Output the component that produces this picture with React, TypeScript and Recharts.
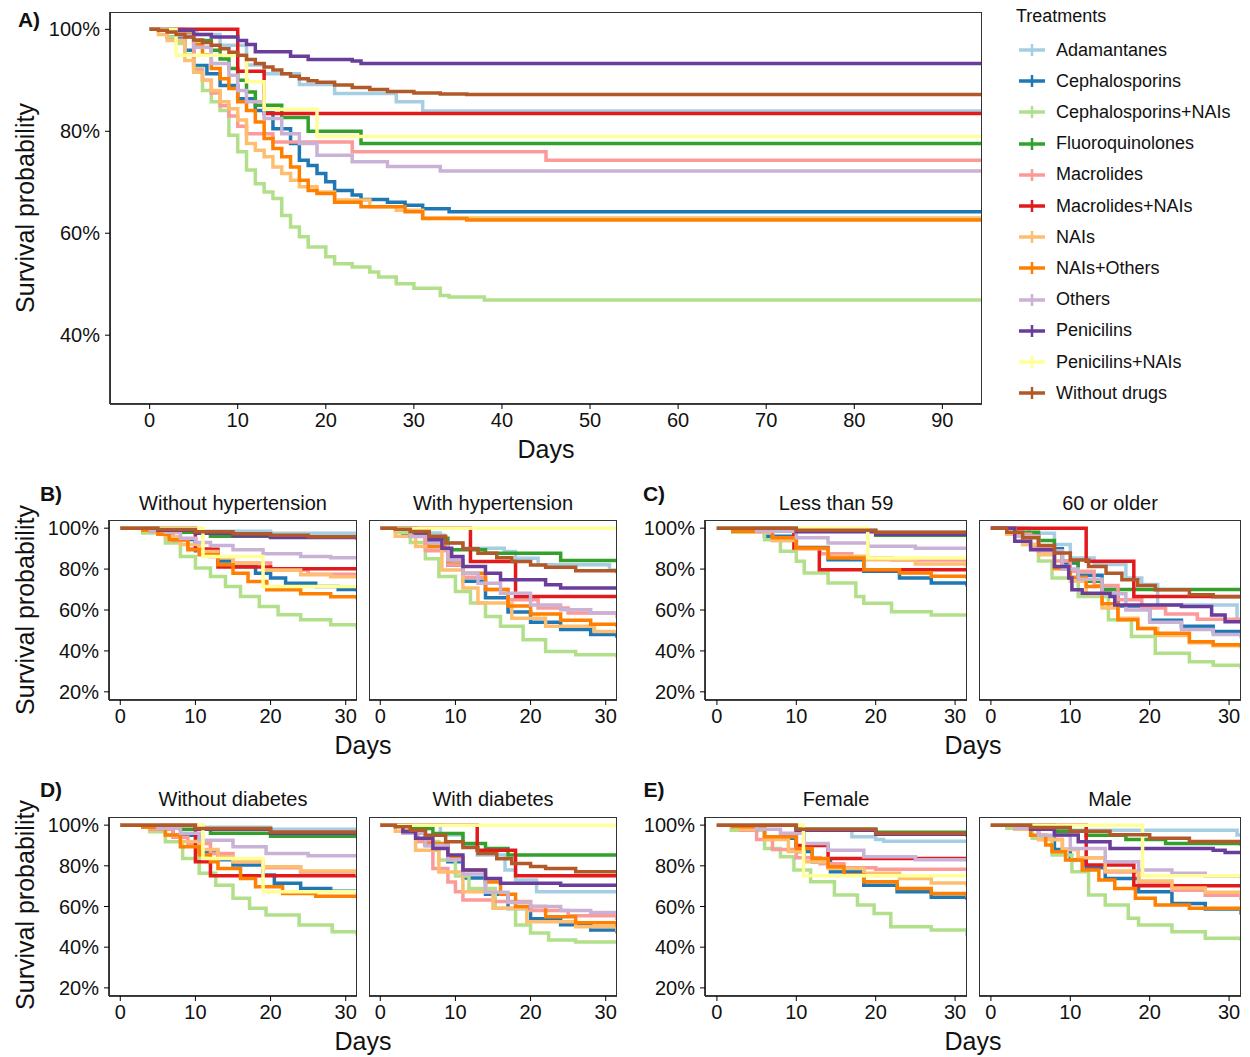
import React from 'react';
import { LineChart, Line, XAxis, YAxis } from 'recharts';

const FONT = '"Liberation Sans", Arial, Helvetica, sans-serif';

const TREATMENTS = [
  'Adamantanes',
  'Cephalosporins',
  'Cephalosporins+NAIs',
  'Fluoroquinolones',
  'Macrolides',
  'Macrolides+NAIs',
  'NAIs',
  'NAIs+Others',
  'Others',
  'Penicilins',
  'Penicilins+NAIs',
  'Without drugs',
];

const COLORS = [
  '#A6CEE3', '#1F78B4', '#B2DF8A', '#33A02C', '#FB9A99', '#E31A1C',
  '#FDBF6F', '#FF7F00', '#CAB2D6', '#6A3D9A', '#FFFF99', '#B15928',
];

type Pt = [number, number];

const A_X_TICKS = [0, 10, 20, 30, 40, 50, 60, 70, 80, 90];
const A_Y_TICKS = [40, 60, 80, 100];
const SMALL_X_TICKS = [0, 10, 20, 30];
const SMALL_Y_TICKS = [20, 40, 60, 80, 100];

// A) all patients, one step series per treatment (same order as TREATMENTS)
const panelA: Pt[][] = [
  [[0, 100], [4, 99.5], [5.4, 99], [8, 96.9], [11, 93], [13, 91.3], [17, 89.2], [21, 87.4], [28, 85.8], [31, 84], [94.5, 84]],
  [[0, 100], [2, 98.5], [4, 95.9], [5, 92.9], [6.5, 91.3], [8, 89], [10, 86.4], [12, 84.1], [14, 80.5], [16, 77.6], [17, 74.3], [18, 73.3], [19, 71.7], [20, 70.1], [21, 68.4], [23, 67.5], [24, 66.6], [27, 66.1], [29, 65.5], [31, 64.8], [34, 64.2], [94.5, 64.2]],
  [[0, 100], [2, 98.5], [3, 97.2], [4, 95], [5, 92.3], [6, 88], [7, 85.8], [8, 84.1], [9, 79.2], [10, 76], [11, 72.4], [12, 69.7], [13, 68.1], [14, 66.8], [15, 63.5], [16, 61.2], [17, 59.3], [18, 57.3], [20, 55.4], [21, 54], [23, 53.4], [25, 52.4], [26, 51.4], [28, 50.1], [30, 49.2], [33, 47.8], [34, 47.5], [38, 46.9], [94.5, 46.9]],
  [[0, 100], [3, 99], [5, 97.8], [7, 95.9], [8, 94.2], [9, 92.3], [10, 90], [11, 87.7], [12, 85.1], [15, 82.7], [18, 80], [24, 77.6], [94.5, 77.6]],
  [[0, 100], [2, 99.5], [4, 98.5], [5, 92], [6, 90], [7, 87.5], [8, 85], [9, 83], [10, 81], [11, 79.5], [14, 77.9], [23, 76], [45, 74.3], [94.5, 74.3]],
  [[0, 100], [10, 91.8], [13, 83.5], [94.5, 83.5]],
  [[0, 100], [1, 99], [2, 97.8], [4, 93.9], [5, 91.6], [6, 90], [7, 88], [8, 85.8], [9, 84.4], [10, 82.2], [11, 77.6], [12, 76.3], [13, 75], [14, 73], [15, 71.7], [16, 70.4], [17, 69.1], [19, 68.1], [21, 66.5], [25, 65.2], [28, 64.5], [31, 63], [94.5, 62.8]],
  [[0, 100], [3, 99], [5, 97], [6, 95], [7, 92.3], [8, 90.3], [9, 88.4], [10, 85.8], [11, 84.1], [12, 81.8], [13, 78.6], [14, 76.6], [15, 75], [16, 73], [17, 70.4], [18, 68.4], [19, 67.8], [21, 66.1], [24, 65.2], [29, 64.2], [31, 62.9], [36, 62.6], [94.5, 62.6]],
  [[0, 100], [3, 98.8], [5, 96.5], [7, 93.3], [9, 91], [10, 88], [11, 85.8], [13, 82.5], [15, 79.5], [17, 77.6], [19, 75.3], [23, 74], [27, 73.1], [33, 72.2], [94.5, 72.2]],
  [[0, 100], [3, 99.8], [5, 99], [7, 98.5], [10, 97.8], [11, 97], [12, 95.6], [16, 94.7], [18, 94.1], [23, 93.8], [24, 93.3], [94.5, 93.3]],
  [[0, 100], [3, 94.9], [11, 89.7], [13, 84.3], [19, 79], [94.5, 79]],
  [[0, 100], [1, 99.8], [2, 99.5], [3, 99], [4, 98.5], [5, 97.9], [6, 97.4], [7, 96.9], [8, 96.2], [9, 95.5], [10, 94.9], [11, 94.1], [12, 93.3], [13, 92.6], [14, 92], [15, 91.3], [16, 90.8], [17, 90.3], [18, 89.9], [19, 89.6], [21, 89.1], [23, 88.6], [25, 88.2], [27, 87.8], [30, 87.5], [33, 87.3], [36, 87.2], [94.5, 87.2]],
];

// B) hypertension
const noHypertension: Pt[][] = [
  [[0, 100], [10, 98.5], [20, 97.5], [31.5, 97.2]],
  [[0, 100], [4, 98.5], [7, 94.5], [10, 89], [13, 84], [15, 81.3], [18, 78], [20, 75.6], [22, 73.1], [26, 71.5], [29, 70], [31.5, 69]],
  [[0, 100], [3, 97.6], [6, 92.7], [8, 86.2], [10, 80.5], [12, 76.4], [14, 71.5], [16, 66.6], [18.5, 61.7], [21, 57.7], [24, 55.2], [28, 52.8], [31.5, 50.7]],
  [[0, 100], [4, 99], [8, 98], [12, 96], [20, 95.6], [31.5, 95.3]],
  [[0, 100], [4, 98.5], [7, 94], [9, 90], [12, 86], [15, 83], [20, 79.5], [25, 77.5], [31.5, 76.5]],
  [[0, 100], [10, 89.7], [13, 81], [20, 80.2], [31.5, 80.2]],
  [[0, 100], [3, 99], [6, 95.9], [8, 92], [10.5, 88.6], [13, 85.5], [15, 82.9], [19, 79.6], [24, 77.2], [28, 76.2], [31.5, 75.6]],
  [[0, 100], [3, 99], [5, 97], [6.5, 94.3], [9, 89.4], [10.5, 87], [13, 82.1], [15, 78], [17, 73.9], [19.5, 69.9], [24, 67.9], [28, 66.5], [31.5, 65.3]],
  [[0, 100], [4, 99], [6, 98], [8, 95.1], [10, 93], [12, 91.5], [15, 89.4], [19, 87.5], [24, 86.2], [28, 85.6], [31.5, 85.3]],
  [[0, 100], [5, 99], [10, 97.5], [15, 96.3], [20, 95.5], [31.5, 94.3]],
  [[0, 100], [11, 86.2], [19, 71.5], [31.5, 71.5]],
  [[0, 100], [5, 99.3], [10, 98.2], [15, 97.3], [20, 96.5], [25, 95.8], [31.5, 95.1]],
];

const withHypertension: Pt[][] = [
  [[0, 100], [5, 97.6], [8, 96.5], [8.5, 92.7], [11, 90.2], [16.5, 88.6], [18, 85.3], [21, 82.1], [30.5, 79.6], [31.5, 79.6]],
  [[0, 100], [3, 97], [6, 91], [9, 82], [11, 74], [14, 66], [17, 59], [20, 54], [24, 50.5], [28, 48], [31.5, 46.3]],
  [[0, 100], [2, 98], [4, 93], [6, 85], [7.8, 76.4], [10, 69], [12, 63.4], [14, 56.8], [16, 52], [19, 45.4], [22, 39.7], [26, 38.1], [31.5, 36.5]],
  [[0, 100], [4, 97.6], [6.5, 95.1], [9, 89.4], [14, 87.8], [24, 84.2], [31.5, 84.2]],
  [[0, 100], [4, 96], [6, 89], [9, 82], [11, 76], [14, 70], [17, 65], [21, 61], [25, 58.5], [31.5, 56]],
  [[0, 100], [12, 83.7], [18, 66.6], [31.5, 66.6]],
  [[0, 100], [2, 96], [4.7, 91], [8.2, 79.6], [11, 70.7], [13, 63.4], [17.5, 56], [22, 52], [28.5, 49.5], [31.5, 48.7]],
  [[0, 100], [4, 96], [6.5, 91], [9, 84], [11, 78], [14, 70], [17, 62], [20, 58], [24, 55], [28, 53], [31.5, 51.6]],
  [[0, 100], [4, 95.9], [6.5, 92.7], [9, 84.5], [11, 78], [13, 73.1], [16, 68.2], [20, 62.5], [24, 60.1], [28, 58.5], [31.5, 57.7]],
  [[0, 100], [4.7, 97.6], [6.5, 94.3], [8.2, 90.2], [9.5, 86.2], [11, 81.3], [14, 78], [16, 74.8], [22, 72.3], [24, 70.7], [31.5, 70.7]],
  [[0, 100], [31.5, 100]],
  [[0, 100], [2, 99.5], [4, 98.4], [6.5, 96], [8.7, 92.7], [11, 90], [13, 87.8], [15.5, 85.5], [17.5, 83.7], [20, 82], [22, 80.9], [26, 79.2], [31.5, 78]],
];

// C) age
const lessThan59: Pt[][] = [
  [[0, 100], [10, 99], [20, 98], [31.5, 97.5]],
  [[0, 100], [3, 98.5], [6, 96], [10, 90.5], [14, 84.6], [18.5, 78.9], [23, 75.6], [27, 73.2], [31.5, 71.5]],
  [[0, 100], [2, 98], [6, 94.4], [8, 88.7], [10, 83.8], [11, 78.1], [14, 73.2], [17.5, 66.6], [18.5, 63.3], [22, 59.2], [27, 57.6], [31.5, 56.8]],
  [[0, 100], [10, 98.5], [20, 96.5], [31.5, 95.7]],
  [[0, 100], [4, 98], [7, 94], [10, 90], [13, 87.5], [17, 85.5], [22, 84.5], [31.5, 83.3]],
  [[0, 100], [9.7, 90.3], [12.9, 79.7], [31.5, 79.7]],
  [[0, 100], [4, 98], [7, 94], [10, 90], [14, 86.3], [19, 84.6], [25, 82.5], [31.5, 81]],
  [[0, 100], [2, 98.5], [7, 95.3], [10, 90.3], [14, 85.4], [18.5, 79.7], [23, 78.1], [27, 76.5], [31.5, 75.1]],
  [[0, 100], [5, 98.5], [10, 95.3], [14, 92.8], [19, 91.2], [25, 90.2], [31.5, 89.5]],
  [[0, 100], [10, 98.3], [20, 97], [31.5, 96.3]],
  [[0, 100], [19, 85.4], [31.5, 85.4]],
  [[0, 100], [10, 99], [20, 98], [31.5, 97.2]],
];

const sixtyOrOlder: Pt[][] = [
  [[0, 100], [4.8, 97.5], [8, 92], [10, 85.4], [13, 82.2], [17, 75.6], [19, 72.5], [21, 62.5], [31, 55.2], [31.5, 55.2]],
  [[0, 100], [3, 96], [6, 90], [9, 83], [11, 77], [14, 70], [16, 62], [20, 55], [24, 52], [28, 49.5], [31.5, 47.8]],
  [[0, 100], [2, 97], [4, 92], [6, 84], [7.7, 75.6], [11, 66.6], [14.8, 55.2], [17.7, 47], [20.7, 38.8], [25, 34.7], [28, 33], [31.5, 31.3]],
  [[0, 100], [3, 98], [6, 94], [8, 88], [9, 83.8], [11, 74], [14, 70], [31.5, 69.9]],
  [[0, 100], [2, 97], [5, 91], [8, 84], [10, 79], [13, 72], [16, 65], [19, 61], [22, 58], [26, 55.5], [31.5, 53.5]],
  [[0, 100], [12, 83.8], [18, 66.6], [31.5, 66.6]],
  [[0, 100], [2, 97], [4, 92], [6, 87], [8, 80], [10, 74], [12, 68], [14, 61], [16, 56], [18.5, 51], [21, 47.5], [25, 44], [28, 42.5], [31.5, 41.2]],
  [[0, 100], [3, 96], [6, 89], [8, 80.5], [10, 76], [12, 71.5], [14, 63], [16, 55.2], [18.5, 51], [20.7, 48.6], [25, 44.5], [28, 43], [31.5, 42]],
  [[0, 100], [3, 96], [6, 89], [9, 80], [11, 75], [14, 68], [17, 60], [20, 54], [24, 50.5], [28, 48], [31.5, 46.2]],
  [[0, 100], [3, 93.6], [5, 89.5], [8, 81.3], [9.8, 75.6], [10.2, 69.9], [11.5, 68.2], [15, 66.6], [15.6, 62.5], [24, 61.7], [27.8, 57.6], [29.5, 54.3], [31.5, 54.3]],
  [],
  [[0, 100], [2, 98], [4, 95.3], [6, 91.5], [8, 87.9], [10, 84.5], [12.3, 81.3], [14.5, 78], [16.5, 74.8], [18.5, 72], [20.7, 69.9], [25, 67.4], [28, 66.5], [31.5, 65.8]],
];

// D) diabetes
const noDiabetes: Pt[][] = [
  [[0, 100], [10, 99], [20, 98], [31.5, 97.5]],
  [[0, 100], [4, 98.5], [7, 95], [10.5, 86.9], [13, 83], [15, 80.4], [19, 75.5], [20.5, 71.4], [24, 68.9], [28, 67.5], [31.5, 66.4]],
  [[0, 100], [3.9, 96.7], [6, 91.8], [8.3, 83.6], [10.5, 76.3], [12.7, 70.5], [15, 64], [17.2, 59.1], [19.4, 55.8], [23.8, 50.9], [28.2, 47.6], [31.5, 45.7]],
  [[0, 100], [8, 98], [12, 96], [20, 94.5], [31.5, 93.5]],
  [[0, 100], [4, 98], [7, 94], [9, 91], [12, 86], [15, 82], [19, 79], [24, 77], [31.5, 76]],
  [[0, 100], [10, 82], [12, 75.1], [31.5, 75.1]],
  [[0, 100], [3, 99], [6, 95], [8, 92], [10.5, 88], [13, 84.5], [15, 82], [19, 79.5], [24, 77.5], [31.5, 75.3]],
  [[0, 100], [3, 99], [6, 95.1], [8, 89.4], [10.5, 85.3], [12, 82], [13, 78.7], [16, 73.8], [18, 69.7], [21.6, 66.4], [26, 65], [31.5, 64]],
  [[0, 100], [5, 98.5], [8, 96], [10.5, 92.6], [15, 89.4], [19.4, 86.1], [25, 85], [31.5, 84.5]],
  [[0, 100], [10, 98], [20, 96], [31.5, 95]],
  [[0, 100], [11, 83.6], [19, 67.3], [31.5, 67.3]],
  [[0, 100], [10, 98.3], [20, 96.6], [31.5, 95.1]],
];

const withDiabetes: Pt[][] = [
  [[0, 100], [8, 95.1], [11, 90.2], [12.9, 85.3], [16.6, 77.9], [18, 73], [20.8, 67.3], [31.5, 67.3]],
  [[0, 100], [3, 97], [6, 90], [9, 82], [11, 74], [14, 66], [17, 59], [20, 54], [24, 51], [28, 48.5], [31.5, 46.8]],
  [[0, 100], [3, 97], [5, 92], [7.8, 82.8], [10, 75], [11.8, 68.9], [15.3, 59.1], [18, 50.9], [20, 47], [22.4, 43.5], [26, 42.5], [31.5, 41.9]],
  [[0, 100], [4, 98.4], [7, 95.9], [11, 91], [14, 88.5], [17, 85.3], [31.5, 85.3]],
  [[0, 100], [3, 97], [5, 92], [7, 78.7], [9, 72], [10, 67.3], [11, 63.2], [15, 62.4], [20, 58], [25, 55.5], [31.5, 53.4]],
  [[0, 100], [12.9, 87.7], [18, 75.1], [31.5, 75.1]],
  [[0, 100], [2, 97], [4.7, 87.7], [7.8, 77], [11, 67.3], [15, 59.1], [19.5, 52.5], [26, 50], [31.5, 47.6]],
  [[0, 100], [3, 97], [6, 91], [9, 84], [11, 78], [14, 72], [16, 66], [18, 60], [22, 55], [26, 52], [31.5, 50.1]],
  [[0, 100], [3, 96], [6, 90], [9, 83], [11, 76], [14, 67], [17, 62], [20, 60], [24, 58], [28, 57], [31.5, 55.8]],
  [[0, 100], [3, 96.7], [4.7, 93.5], [7, 88.5], [9, 85.3], [11, 77.9], [14, 73.8], [16, 71.4], [24, 70.5], [31.5, 69.7]],
  [[0, 100], [31.5, 100]],
  [[0, 100], [2, 99.2], [4, 97.5], [6, 95], [8.7, 91.8], [11, 89], [13, 86.1], [15.5, 83.5], [17.5, 81.2], [20, 79.7], [22, 78.7], [26, 77.1], [31.5, 76.3]],
];

// E) sex
const female: Pt[][] = [
  [[0, 100], [10, 97.5], [17, 94.3], [20, 93], [21, 92.1], [31.5, 92.1]],
  [[0, 100], [3, 98], [6, 93.5], [10, 87], [12, 82], [14.3, 77.1], [18.5, 70.5], [22.7, 67.3], [27, 64.5], [31.5, 63.2]],
  [[0, 100], [1.8, 97.5], [6, 88.5], [8, 84.5], [9.7, 77.9], [11.8, 72.2], [14.8, 65.6], [17.7, 60.7], [19.8, 56.6], [21.9, 50.1], [27, 48.4], [31.5, 45.5]],
  [[0, 100], [10, 98], [20, 96.5], [31.5, 95.5]],
  [[0, 100], [3, 97.5], [5, 93], [7, 88], [10, 84], [13, 81], [16, 79], [20, 78.3], [31.5, 77.4]],
  [[0, 100], [10, 90], [14, 83.6], [31.5, 83.6]],
  [[0, 100], [3, 98], [6, 93], [9, 87], [11, 82], [14, 78.7], [18.5, 76.3], [23, 73.8], [27, 71.5], [31.5, 69.7]],
  [[0, 100], [2, 99.2], [6, 94.3], [10, 88.5], [12, 83.6], [14, 79.5], [16, 75.5], [18.5, 72.2], [22.7, 68.9], [27, 66.4], [31.5, 64.3]],
  [[0, 100], [5, 98], [8, 96], [11, 91], [14, 87.7], [18.5, 84.5], [25, 83], [31.5, 82]],
  [[0, 100], [10, 97.5], [20, 95.5], [31.5, 94.3]],
  [[0, 100], [10.9, 75.1], [31.5, 75.1]],
  [[0, 100], [10, 98], [20, 96], [31.5, 94.6]],
];

const male: Pt[][] = [
  [[0, 100], [5, 99], [8, 97.5], [31, 95.1], [31.5, 95.1]],
  [[0, 100], [3, 98.5], [6, 94], [8, 88], [10, 83], [12, 79], [14.4, 73.8], [18.6, 67.3], [22.8, 61.5], [27, 58.8], [31.5, 56.1]],
  [[0, 100], [2, 98.5], [5.2, 93.5], [7.7, 85.3], [10.2, 77.1], [12.3, 65.6], [14.4, 60.7], [17.3, 54.2], [18.6, 50.9], [22.8, 47.6], [27, 44.4], [31.5, 43]],
  [[0, 100], [8, 97], [12, 95], [17, 93], [22, 91], [31.5, 89.9]],
  [[0, 100], [3, 98], [6, 93], [9, 88], [11, 84], [14.4, 77], [18.6, 71.5], [22.8, 68], [27, 65.5], [31.5, 63.2]],
  [[0, 100], [12, 80.4], [18, 70.2], [31.5, 70.2]],
  [[0, 100], [3, 98], [6, 93], [9, 88], [11, 84], [14.4, 77.5], [18.6, 72.5], [22.8, 69.1], [27, 67], [31.5, 64.8]],
  [[0, 100], [3, 98.5], [5, 95], [6.9, 90.2], [7.7, 86.9], [9.4, 82.8], [11.5, 77.9], [13.6, 73], [15.6, 68.9], [18.2, 64], [20.7, 60.7], [25, 59.1], [31.5, 56.6]],
  [[0, 100], [3, 98.5], [6, 95], [10, 88.5], [14.4, 82], [18.6, 77.9], [22.8, 76.3], [27, 75], [31.5, 73.8]],
  [[0, 100], [5, 98], [8, 95.1], [11, 91.8], [15, 88.5], [28, 87.7], [29.5, 86.6], [31.5, 86.6]],
  [[0, 100], [19.1, 75.1], [31.5, 75.1]],
  [[0, 100], [5, 98.8], [10, 97], [15, 95.3], [20, 93.5], [25, 92], [31.5, 91]],
];

const toRows = (s: Pt[]) => s.map(([x, y]) => ({ x, y }));

const tickStyle = { fontSize: 20, fill: '#111', fontFamily: FONT };

interface FacetProps {
  left: number;
  top: number;
  w: number;
  h: number;
  series: Pt[][];
  xDomain: [number, number];
  xTicks: number[];
  yDomain: [number, number];
  yTicks: number[];
  showY?: boolean;
}

// padding around the plot area so that edge tick labels are not clipped
const PAD_T = 14;
const PAD_R = 14;
const LINE_W = 3.5;

function Facet({ left, top, w, h, series, xDomain, xTicks, yDomain, yTicks, showY = false }: FacetProps) {
  const yW = showY ? 90 : 0;
  const xH = 40;
  const cw = w + yW + PAD_R;
  const ch = h + xH + PAD_T;
  return (
    <div style={{ position: 'absolute', left: left - yW, top: top - PAD_T, width: cw, height: ch }}>
      <LineChart width={cw} height={ch} margin={{ top: PAD_T, right: PAD_R, bottom: 0, left: 0 }}>
        <XAxis
          type="number"
          dataKey="x"
          domain={xDomain}
          ticks={xTicks}
          allowDataOverflow
          interval={0}
          height={xH}
          tickSize={5}
          tickMargin={4}
          tick={tickStyle}
          tickLine={{ stroke: '#000' }}
          axisLine={{ stroke: '#000', strokeWidth: 1.5 }}
        />
        <YAxis
          type="number"
          domain={yDomain}
          ticks={yTicks}
          allowDataOverflow
          interval={0}
          hide={!showY}
          width={yW}
          tickSize={5}
          tickMargin={5}
          tick={tickStyle}
          tickLine={{ stroke: '#000' }}
          axisLine={{ stroke: '#000', strokeWidth: 1.5 }}
          tickFormatter={(v) => `${v}%`}
        />
        {series.map((s, i) => (
          <Line
            key={TREATMENTS[i]}
            name={TREATMENTS[i]}
            data={toRows(s)}
            dataKey="y"
            type="stepAfter"
            stroke={COLORS[i]}
            strokeWidth={LINE_W}
            dot={false}
            activeDot={false}
            isAnimationActive={false}
          />
        ))}
      </LineChart>
      <div
        style={{
          position: 'absolute',
          left: yW,
          top: PAD_T,
          width: w,
          height: h,
          border: '1px solid #333',
          boxSizing: 'border-box',
          pointerEvents: 'none',
        }}
      />
    </div>
  );
}

function Txt({ x, y, size = 20, bold = false, rotate = false, children }: { x: number; y: number; size?: number; bold?: boolean; rotate?: boolean; children: React.ReactNode }) {
  return (
    <div
      style={{
        position: 'absolute',
        left: x,
        top: y,
        transform: `translate(-50%, -50%)${rotate ? ' rotate(-90deg)' : ''}`,
        fontSize: size,
        fontWeight: bold ? 'bold' : 'normal',
        whiteSpace: 'nowrap',
        color: '#111',
        lineHeight: 1,
      }}
    >
      {children}
    </div>
  );
}

function TreatmentLegend() {
  return (
    <div style={{ position: 'absolute', left: 1016, top: 7 }}>
      <div style={{ fontSize: 18, lineHeight: '18px', color: '#111' }}>Treatments</div>
      {TREATMENTS.map((t, i) => (
        <div key={t} style={{ position: 'absolute', left: 0, top: 33 + i * 31.2, height: 20, display: 'flex', alignItems: 'center', whiteSpace: 'nowrap' }}>
          <svg width={36} height={20} style={{ marginLeft: 2 }}>
            <line x1={1} x2={27} y1={10} y2={10} stroke={COLORS[i]} strokeWidth={LINE_W} />
            <line x1={14} x2={14} y1={4} y2={16} stroke={COLORS[i]} strokeWidth={2.5} />
          </svg>
          <span style={{ fontSize: 18, color: '#111', marginLeft: 2 }}>{t}</span>
        </div>
      ))}
    </div>
  );
}

const SX: [number, number] = [-1.5, 31.5];
const SY: [number, number] = [16, 104];

export default function App() {
  return (
    <div style={{ position: 'absolute', left: 0, top: 0, width: 1250, height: 1057, background: '#fff', fontFamily: FONT }}>
      <Facet left={110} top={12} w={872} h={392} series={panelA} xDomain={[-4.5, 94.5]} xTicks={A_X_TICKS} yDomain={[26.5, 103.4]} yTicks={A_Y_TICKS} showY />
      <TreatmentLegend />
      <Txt x={29} y={19} size={21} bold>A)</Txt>
      <Txt x={25} y={208} size={25} rotate>Survival probability</Txt>
      <Txt x={546} y={449} size={25}>Days</Txt>

      <Facet left={109} top={520} w={248} h={180} series={noHypertension} xDomain={SX} xTicks={SMALL_X_TICKS} yDomain={SY} yTicks={SMALL_Y_TICKS} showY />
      <Facet left={369} top={520} w={248} h={180} series={withHypertension} xDomain={SX} xTicks={SMALL_X_TICKS} yDomain={SY} yTicks={SMALL_Y_TICKS} />
      <Txt x={51} y={493} size={21} bold>B)</Txt>
      <Txt x={233} y={503}>Without hypertension</Txt>
      <Txt x={493} y={503}>With hypertension</Txt>
      <Txt x={363} y={745} size={25}>Days</Txt>
      <Txt x={25} y={610} size={25} rotate>Survival probability</Txt>

      <Facet left={705} top={520} w={262} h={180} series={lessThan59} xDomain={SX} xTicks={SMALL_X_TICKS} yDomain={SY} yTicks={SMALL_Y_TICKS} showY />
      <Facet left={979} top={520} w={262} h={180} series={sixtyOrOlder} xDomain={SX} xTicks={SMALL_X_TICKS} yDomain={SY} yTicks={SMALL_Y_TICKS} />
      <Txt x={654} y={493} size={21} bold>C)</Txt>
      <Txt x={836} y={503}>Less than 59</Txt>
      <Txt x={1110} y={503}>60 or older</Txt>
      <Txt x={973} y={745} size={25}>Days</Txt>

      <Facet left={109} top={817} w={248} h={179} series={noDiabetes} xDomain={SX} xTicks={SMALL_X_TICKS} yDomain={SY} yTicks={SMALL_Y_TICKS} showY />
      <Facet left={369} top={817} w={248} h={179} series={withDiabetes} xDomain={SX} xTicks={SMALL_X_TICKS} yDomain={SY} yTicks={SMALL_Y_TICKS} />
      <Txt x={51} y={789} size={21} bold>D)</Txt>
      <Txt x={233} y={799}>Without diabetes</Txt>
      <Txt x={493} y={799}>With diabetes</Txt>
      <Txt x={363} y={1041} size={25}>Days</Txt>
      <Txt x={25} y={905} size={25} rotate>Survival probability</Txt>

      <Facet left={705} top={817} w={262} h={179} series={female} xDomain={SX} xTicks={SMALL_X_TICKS} yDomain={SY} yTicks={SMALL_Y_TICKS} showY />
      <Facet left={979} top={817} w={262} h={179} series={male} xDomain={SX} xTicks={SMALL_X_TICKS} yDomain={SY} yTicks={SMALL_Y_TICKS} />
      <Txt x={654} y={789} size={21} bold>E)</Txt>
      <Txt x={836} y={799}>Female</Txt>
      <Txt x={1110} y={799}>Male</Txt>
      <Txt x={973} y={1041} size={25}>Days</Txt>
    </div>
  );
}
